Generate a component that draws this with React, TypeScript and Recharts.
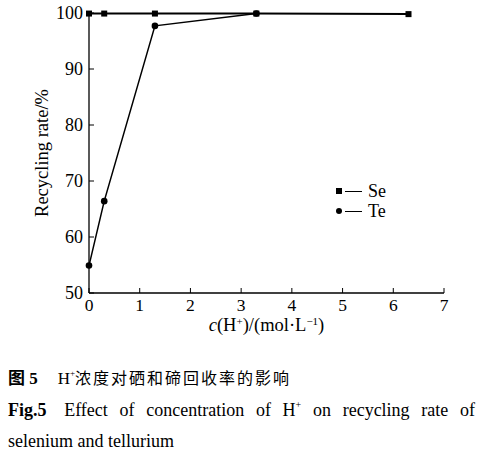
import React from 'react';
import { LineChart, Line, XAxis, YAxis } from 'recharts';

const xValues = [0, 0.3, 1.3, 3.3, 6.3];
const seValues = [99.9, 99.9, 99.9, 99.9, 99.8];
const teValues = [54.9, 66.4, 97.7, 99.9, null];
const xTicks = [0, 1, 2, 3, 4, 5, 6, 7];
const yTicks = [50, 60, 70, 80, 90, 100];
const seriesNames = ['Se', 'Te'];

const data = xValues.map((x, i) => ({ x, se: seValues[i], te: teValues[i] }));

const FONT = '"Liberation Serif", "Times New Roman", serif';
const CJK = '"Noto Sans CJK SC", sans-serif';

const XTick = (props: any) => {
  const { x, y, payload } = props;
  return (
    <g>
      <line x1={x} y1={y - 6} x2={x} y2={y - 11} stroke="#000" strokeWidth={1} />
      <text x={x} y={y + 12} textAnchor="middle" style={{ fontFamily: FONT, fontSize: 17.5 }} fill="#000">
        {payload.value}
      </text>
    </g>
  );
};

const YTick = (props: any) => {
  const { x, y, payload } = props;
  return (
    <g>
      <line x1={x + 4} y1={y} x2={x + 9} y2={y} stroke="#000" strokeWidth={1} />
      <text x={x - 2} y={y + 6} textAnchor="end" style={{ fontFamily: FONT, fontSize: 18 }} fill="#000">
        {payload.value}
      </text>
    </g>
  );
};

const SquareDot = (props: any) => {
  const { cx, cy } = props;
  if (cx == null || cy == null) return null;
  return <rect x={cx - 3} y={cy - 3} width={6} height={6} fill="#000" />;
};

const CircleDot = (props: any) => {
  const { cx, cy } = props;
  if (cx == null || cy == null) return null;
  return <circle cx={cx} cy={cy} r={3.3} fill="#000" />;
};

const XLabel = (props: any) => {
  const vb = props.viewBox || {};
  const cx = vb.x + vb.width / 2;
  const y = 331;
  return (
    <text x={cx} y={y} textAnchor="middle" style={{ fontFamily: FONT, fontSize: 18.5 }} fill="#000">
      <tspan fontStyle="italic">c</tspan>
      <tspan>(H</tspan>
      <tspan fontSize={11} dy={-6}>+</tspan>
      <tspan dy={6}>)/(mol·L</tspan>
      <tspan fontSize={11} dy={-6}>−1</tspan>
      <tspan dy={6}>)</tspan>
    </text>
  );
};

const YLabel = (props: any) => {
  const vb = props.viewBox || {};
  const cy = vb.y + vb.height / 2;
  const x = 48;
  return (
    <text
      x={x}
      y={cy}
      textAnchor="middle"
      style={{ fontFamily: FONT, fontSize: 18.5 }}
      fill="#000"
      transform={`rotate(-90, ${x}, ${cy})`}
    >
      Recycling rate/%
    </text>
  );
};

export default function App() {
  return (
    <div
      style={{
        position: 'absolute',
        left: 0,
        top: 0,
        width: 503,
        height: 456,
        background: '#fff',
        overflow: 'hidden',
      }}
    >
      <LineChart
        width={503}
        height={340}
        data={data}
        margin={{ top: 13, right: 59, bottom: 7, left: 39 }}
      >
        <XAxis
          dataKey="x"
          type="number"
          domain={[0, 7]}
          ticks={xTicks}
          tickSize={0}
          tickMargin={6}
          tickLine={false}
          axisLine={{ stroke: '#000', strokeWidth: 1.3 }}
          tick={<XTick />}
          height={40}
          label={<XLabel />}
        />
        <XAxis
          xAxisId="top"
          orientation="top"
          dataKey="x"
          type="number"
          domain={[0, 7]}
          ticks={[]}
          tick={false}
          tickLine={false}
          height={0}
          axisLine={{ stroke: '#000', strokeWidth: 1 }}
        />
        <YAxis
          type="number"
          domain={[50, 100]}
          ticks={yTicks}
          tickSize={0}
          tickMargin={4}
          tickLine={false}
          axisLine={{ stroke: '#000', strokeWidth: 1.3 }}
          tick={<YTick />}
          width={50}
          label={<YLabel />}
        />
        <YAxis
          yAxisId="right"
          orientation="right"
          type="number"
          domain={[50, 100]}
          ticks={[]}
          tick={false}
          tickLine={false}
          width={0}
          axisLine={{ stroke: '#000', strokeWidth: 1 }}
        />
        <Line
          dataKey="se"
          stroke="#000"
          strokeWidth={2}
          dot={<SquareDot />}
          isAnimationActive={false}
          name={seriesNames[0]}
        />
        <Line
          dataKey="te"
          stroke="#000"
          strokeWidth={1.5}
          dot={<CircleDot />}
          isAnimationActive={false}
          connectNulls={false}
          name={seriesNames[1]}
        />
      </LineChart>
      <div
        style={{
          position: 'absolute',
          left: 336,
          top: 181,
          fontFamily: FONT,
          fontSize: 18,
          lineHeight: '20px',
          color: '#000',
        }}
      >
        <div style={{ display: 'flex', alignItems: 'center' }}>
          <span style={{ display: 'inline-block', width: 6, height: 6, background: '#000' }} />
          <span style={{ display: 'inline-block', width: 17, height: 1, background: '#000', marginLeft: 3 }} />
          <span style={{ marginLeft: 6 }}>{seriesNames[0]}</span>
        </div>
        <div style={{ display: 'flex', alignItems: 'center' }}>
          <span style={{ display: 'inline-block', width: 6, height: 6, borderRadius: 3, background: '#000' }} />
          <span style={{ display: 'inline-block', width: 17, height: 1, background: '#000', marginLeft: 3 }} />
          <span style={{ marginLeft: 6 }}>{seriesNames[1]}</span>
        </div>
      </div>
      <div
        style={{
          position: 'absolute',
          left: 8,
          top: 366,
          fontFamily: FONT,
          fontSize: 17,
          color: '#000',
          whiteSpace: 'nowrap',
          lineHeight: '22px',
        }}
      >
        <span style={{ fontFamily: CJK, fontWeight: 700 }}>图</span>
        <span style={{ fontWeight: 700 }}> 5</span>
        <span style={{ display: 'inline-block', width: 20 }} />
        <span>H</span>
        <sup style={{ fontSize: 9, verticalAlign: 'top', lineHeight: '14px' }}>+</sup>
        <span style={{ fontFamily: CJK, fontSize: 16, letterSpacing: 2 }}>浓度对硒和碲回收率的影响</span>
      </div>
      <div
        style={{
          position: 'absolute',
          left: 8,
          top: 398,
          width: 467,
          fontFamily: FONT,
          fontSize: 18,
          color: '#000',
          lineHeight: '24px',
          textAlign: 'justify',
          textAlignLast: 'justify',
          whiteSpace: 'nowrap',
        }}
      >
        <span style={{ fontWeight: 700 }}>Fig.5</span>
        <span style={{ display: 'inline-block', width: 6 }} /> Effect of concentration of H
        <sup style={{ fontSize: 10, verticalAlign: 'top', lineHeight: '14px' }}>+</sup> on recycling rate of
      </div>
      <div
        style={{
          position: 'absolute',
          left: 8,
          top: 429,
          fontFamily: FONT,
          fontSize: 18,
          color: '#000',
          lineHeight: '24px',
          whiteSpace: 'nowrap',
        }}
      >
        selenium and tellurium
      </div>
    </div>
  );
}
